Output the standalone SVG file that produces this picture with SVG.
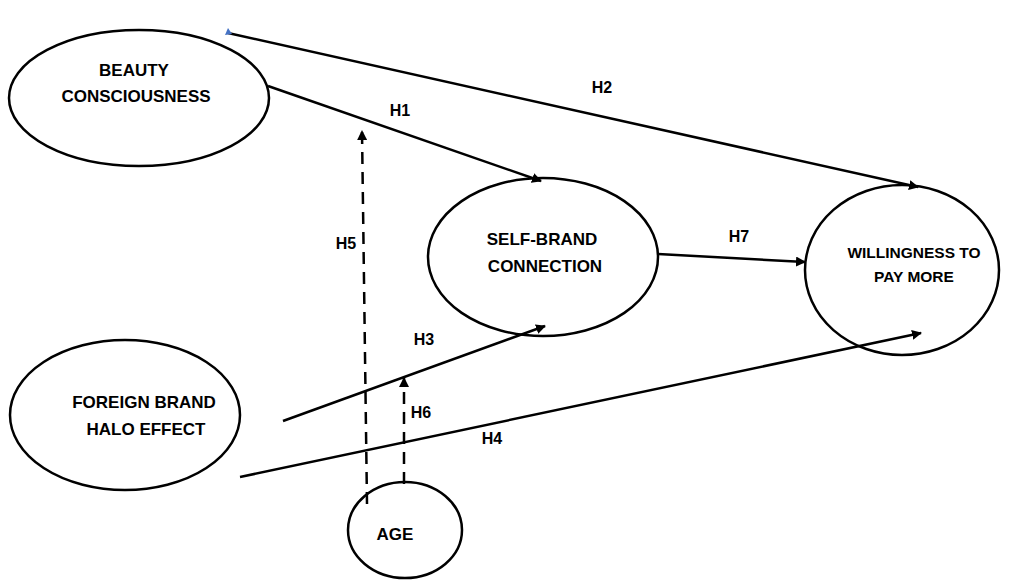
<svg xmlns="http://www.w3.org/2000/svg" width="1024" height="581" viewBox="0 0 1024 581">
<defs>
<marker id="ah" viewBox="0 0 10 10" refX="9" refY="5" markerWidth="4" markerHeight="4" orient="auto" markerUnits="strokeWidth">
<path d="M0,0 L10,5 L0,10 z" fill="#000"/>
</marker>
<style>
.node{fill:#fff;stroke:#000;stroke-width:2.5}
.t{font-family:"Liberation Sans",Arial,sans-serif;font-weight:bold;font-size:17px;fill:#000;text-anchor:middle}
.s{font-family:"Liberation Sans",Arial,sans-serif;font-weight:bold;font-size:15.5px;fill:#000;text-anchor:middle}
.l{font-family:"Liberation Sans",Arial,sans-serif;font-weight:bold;font-size:16px;fill:#000;text-anchor:middle}
.c{stroke:#000;stroke-width:2.5;fill:none;marker-end:url(#ah)}
.d{stroke-dasharray:12,8}
</style>
</defs>
<rect width="1024" height="581" fill="#fff"/>
<g id="beauty"><ellipse class="node" cx="139" cy="98" rx="130" ry="68"/><text class="t" x="134" y="76">BEAUTY</text><text class="t" x="136" y="102">CONSCIOUSNESS</text></g>
<g id="selfbrand"><ellipse class="node" cx="543" cy="257" rx="115" ry="79"/><text class="t" x="542" y="245">SELF-BRAND</text><text class="t" x="545" y="272">CONNECTION</text></g>
<g id="wtp"><ellipse class="node" cx="902" cy="270" rx="97" ry="85"/><text class="s" x="914" y="258">WILLINGNESS TO</text><text class="s" x="914" y="282">PAY MORE</text></g>
<g id="foreign"><ellipse class="node" cx="125" cy="415" rx="115" ry="75"/><text class="t" x="144" y="408">FOREIGN BRAND</text><text class="t" x="146" y="435">HALO EFFECT</text></g>
<g id="age"><ellipse class="node" cx="405" cy="530" rx="57" ry="48"/><text class="t" x="395" y="540">AGE</text></g>
<g id="connectors">
<line class="c" x1="228" y1="33" x2="918" y2="187"/>
<line class="c" x1="268" y1="86" x2="541" y2="181"/>
<line class="c" x1="658" y1="254" x2="805" y2="262"/>
<line class="c" x1="283" y1="421" x2="545" y2="326"/>
<line class="c" x1="240" y1="477" x2="921" y2="333"/>
<line class="c d" x1="367" y1="504" x2="362" y2="131"/>
<line class="c d" x1="404" y1="484" x2="404" y2="378"/>
<polygon points="228,28 232,34 225,35" fill="#4472C4"/>
</g>
<g id="labels">
<text class="l" x="400" y="116">H1</text>
<text class="l" x="602" y="93">H2</text>
<text class="l" x="346" y="249">H5</text>
<text class="l" x="739" y="242">H7</text>
<text class="l" x="424" y="345">H3</text>
<text class="l" x="421" y="418">H6</text>
<text class="l" x="492" y="444">H4</text>
</g>
</svg>
